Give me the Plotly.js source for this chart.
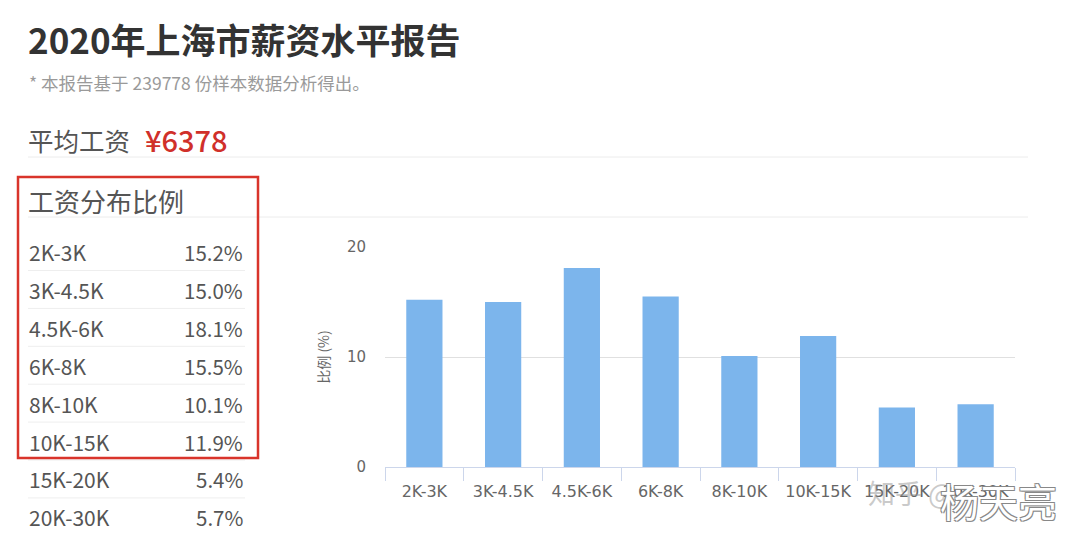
<!DOCTYPE html>
<html><head><meta charset="utf-8">
<script src="https://cdn.plot.ly/plotly-3.0.1.min.js"></script>
<style>html,body{margin:0;padding:0;background:#fff}#chart{width:1080px;height:546px}</style>
</head><body><div id="chart"></div>
<script>
const categories = ["2K-3K","3K-4.5K","4.5K-6K","6K-8K","8K-10K","10K-15K","15K-20K","20K-30K"];
const percents = [15.2, 15.0, 18.1, 15.5, 10.1, 11.9, 5.4, 5.7];
const reportTitle = "2020年上海市薪资水平报告";
const sampleNote = "* 本报告基于 239778 份样本数据分析得出。";
const avgLabel = "平均工资";
const avgValue = "¥6378";
const tableTitle = "工资分布比例";
const yTitle = "比例 (%)";

// plot area in pixels
const L = 385, R = 1015, T = 247, B = 467;
const px = x => (x - L) / (R - L);
const py = y => (B - y) / (B - T);

const CJK = '"Noto Sans CJK SC", "Noto Sans", sans-serif';
const annotations = [];
const shapes = [];
function txt(text, x, y, size, color, anchor, extra) {
  annotations.push(Object.assign({
    text, x: px(x), y: py(y), xref: 'paper', yref: 'paper', showarrow: false,
    xanchor: anchor || 'left', yanchor: 'middle',
    font: {family: CJK, size, color}
  }, extra || {}));
}
function hline(x0, x1, y, color) {
  shapes.push({type: 'line', xref: 'paper', yref: 'paper', x0: px(x0), x1: px(x1), y0: py(y), y1: py(y),
    line: {color, width: 1}});
}

txt(reportTitle, 26, 39, 35, '#333', 'left', {font: {family: CJK, size: 35, color: '#333', weight: 700}});
txt(sampleNote, 27, 82, 17.5, '#9a9a9a');
txt(avgLabel, 26, 139, 25.5, '#555');
txt(avgValue, 143, 139, 29, '#d0302a', 'left', {font: {family: CJK, size: 29, color: '#d0302a', weight: 500}});
hline(28, 1028, 157, '#ececec');
txt(tableTitle, 26, 200, 26, '#555');
hline(28, 1028, 217, '#ececec');

const rowStart = 252, rowStep = 37.9;
categories.forEach((c, i) => {
  const yc = rowStart + i * rowStep;
  txt(c, 27, yc, 21, '#555');
  txt(percents[i].toFixed(1) + '%', 245, yc, 20.5, '#555', 'right');
  if (i < categories.length - 1) hline(28, 245, yc + 18.5, '#eeeeee');
});

// red highlight box
shapes.push({type: 'rect', xref: 'paper', yref: 'paper', x0: px(18), x1: px(258), y0: py(177), y1: py(458),
  line: {color: '#d9342b', width: 2.5}});

// watermark
txt('知乎 @', 866, 492, 27, 'rgba(150,150,150,0.5)');
annotations.push({text: '杨天亮', x: px(938), y: py(500), xref: 'paper', yref: 'paper', showarrow: false,
  xanchor: 'left', yanchor: 'middle',
  font: {family: CJK, size: 39, color: '#ffffff',
    shadow: '1px 1px 0 #888, -1px -1px 0 #888, 1px -1px 0 #888, -1px 1px 0 #888'}});

const trace = {
  type: 'bar', x: categories, y: percents,
  marker: {color: '#7cb5ec'}, hoverinfo: 'x+y'
};

const layout = {
  width: 1080, height: 546,
  margin: {l: L, r: 1080 - R, t: T, b: 546 - B, pad: 0},
  paper_bgcolor: '#fff', plot_bgcolor: '#fff',
  showlegend: false,
  bargap: 0.54,
  xaxis: {
    type: 'category', showline: true, linecolor: '#ccd6eb', linewidth: 1,
    ticks: 'outside', tickson: 'boundaries', ticklen: 13, tickcolor: '#ccd6eb',
    tickfont: {family: 'DejaVu Sans, Verdana, sans-serif', size: 16, color: '#666'},
    ticklabelstandoff: 10,
    showgrid: false, fixedrange: true
  },
  yaxis: {
    range: [0, 20], dtick: 10, showline: false, zeroline: false,
    gridcolor: '#e0e0e0', gridwidth: 1,
    tickfont: {family: 'DejaVu Sans, Verdana, sans-serif', size: 15, color: '#666'},
    ticklabelstandoff: 18,
    title: {text: yTitle, font: {family: CJK, size: 14, color: '#666'}, standoff: 14},
    fixedrange: true
  },
  annotations, shapes
};

Plotly.newPlot('chart', [trace], layout, {displayModeBar: false, staticPlot: true});
</script>
</body></html>
